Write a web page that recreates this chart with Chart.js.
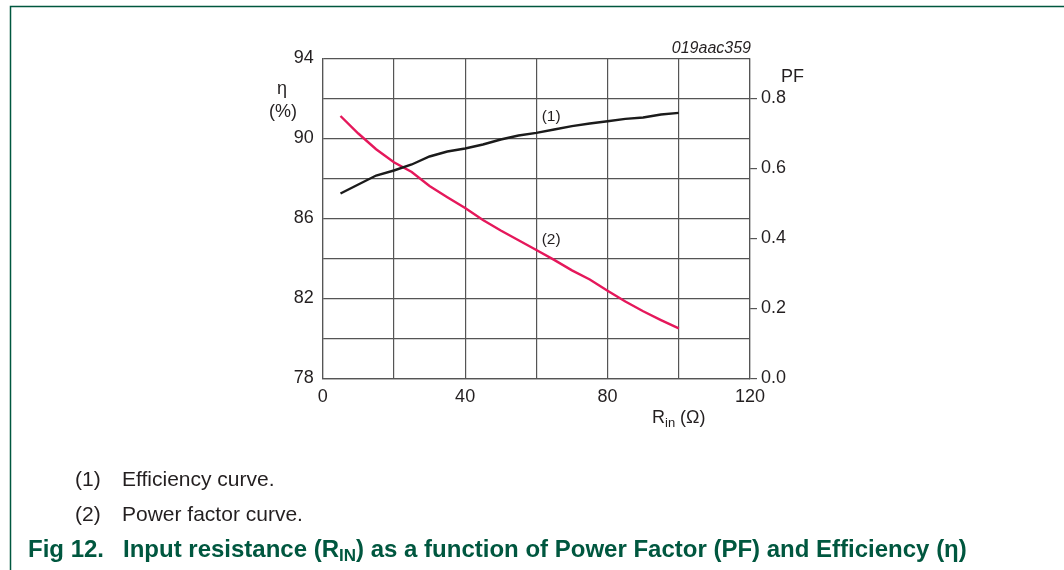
<!DOCTYPE html>
<html>
<head>
<meta charset="utf-8">
<script src="https://cdn.jsdelivr.net/npm/chart.js@4.4.1/dist/chart.umd.min.js"></script>
<style>
html,body{margin:0;padding:0;background:#fff;}
#wrap{position:relative;width:1064px;height:570px;}
</style>
</head>
<body>
<div id="wrap"><canvas id="chart" width="1064" height="570"></canvas></div>
<script>
// data

const rin = [5,10,15,20,25,30,35,40,45,50,55,60,65,70,75,80,85,90,95,100]

const efficiency = [87.25,87.7,88.15,88.4,88.7,89.1,89.35,89.5,89.7,89.95,
90.15,90.28,90.45,90.62,90.75,90.86,90.98,91.05,91.2,91.28]

const powerFactor = [0.750,0.700,0.655,0.618,0.590,0.550,0.518,0.487,0.453,0.423,
0.395,0.367,0.339,0.309,0.283,0.251,0.220,0.192,0.167,0.143]

const etaTicks = [78,82,86,90,94]
const pfTicks = [0,0.2,0.4,0.6,0.8]
const rinTicks = [0,40,80,120]

const labelFont = "'Liberation Sans', Arial, sans-serif"
const textColor = "#231f20"
const gridColor = "#555555"
const green = "#00573f"


// extra text and frame

const textPlugin = {

id:"figText",

afterDraw(chart){

const ctx = chart.ctx
const x = chart.scales.x
const y = chart.scales.y

ctx.save()

// frame of the page
ctx.strokeStyle = green
ctx.lineWidth = 1.5
ctx.beginPath()
ctx.moveTo(10.5,570)
ctx.lineTo(10.5,6.5)
ctx.lineTo(1064,6.5)
ctx.stroke()

ctx.fillStyle = textColor
ctx.textBaseline = "middle"

// axis titles
ctx.font = "18px " + labelFont
ctx.textAlign = "center"
ctx.fillText("η",282,89)
ctx.textAlign = "right"
ctx.fillText("(%)",297,112)

ctx.textAlign = "left"
ctx.fillText("PF",781,77)

ctx.fillText("R",652,418)
let w = ctx.measureText("R").width
ctx.font = "13px " + labelFont
ctx.fillText("in",652+w,423)
let w2 = ctx.measureText("in").width
ctx.font = "18px " + labelFont
ctx.fillText(" (Ω)",652+w+w2,418)

ctx.font = "italic 16px " + labelFont
ctx.textAlign = "right"
ctx.fillText("019aac359",751,49)

// curve labels
ctx.font = "15.5px " + labelFont
ctx.textAlign = "left"
ctx.fillText("(1)",x.getPixelForValue(61.5),y.getPixelForValue(91.09))
ctx.fillText("(2)",x.getPixelForValue(61.5),y.getPixelForValue(84.93))

// notes
ctx.font = "21px " + labelFont
ctx.fillText("(1)",75,480)
ctx.fillText("Efficiency curve.",122,480)
ctx.fillText("(2)",75,515)
ctx.fillText("Power factor curve.",122,515)

// caption
ctx.fillStyle = green
ctx.font = "bold 24px " + labelFont
ctx.fillText("Fig 12.",28,550)

let cx = 123
const parts = [
["Input resistance (R",0],
["IN",1],
[") as a function of Power Factor (PF) and Efficiency (η)",0]
]
parts.forEach(p=>{
ctx.font = (p[1] ? "bold 17px " : "bold 24px ") + labelFont
ctx.fillText(p[0],cx,p[1] ? 556 : 550)
cx += ctx.measureText(p[0]).width
})

ctx.restore()

}

}


const ctx = document.getElementById("chart")

new Chart(ctx,{

type:"line",

data:{

labels:rin,

datasets:[
{
label:"Efficiency",
data:rin.map((r,i)=>({x:r,y:efficiency[i]})),
borderColor:"#1b1b1b",
borderWidth:2.4,
pointRadius:0,
yAxisID:"y"
},
{
label:"Power factor",
data:rin.map((r,i)=>({x:r,y:powerFactor[i]})),
borderColor:"#e5185b",
borderWidth:2.4,
pointRadius:0,
yAxisID:"y2"
}
]

},

options:{

responsive:false,
animation:false,
events:[],

layout:{
padding:{left:0,right:0,top:58.5,bottom:0}
},

plugins:{
legend:{display:false},
tooltip:{enabled:false}
},

scales:{

x:{
type:"linear",
min:0,
max:120,
ticks:{
stepSize:20,
color:textColor,
font:{family:labelFont,size:18},
padding:8,
maxRotation:0,
callback:v=>rinTicks.includes(v) ? v : ""
},
grid:{color:gridColor,lineWidth:1.2,drawTicks:false},
border:{color:gridColor,width:1.2},
afterFit:s=>{s.height = 570-378.5}
},

y:{
position:"left",
min:78,
max:94,
ticks:{
stepSize:2,
color:textColor,
font:{family:labelFont,size:18},
padding:9,
callback:v=>etaTicks.includes(v) ? v : ""
},
grid:{color:gridColor,lineWidth:1.2,drawTicks:false},
border:{color:gridColor,width:1.2},
afterFit:s=>{s.width = 322.7}
},

y2:{
position:"right",
min:0,
max:16/17.5,
afterBuildTicks:s=>{s.ticks = pfTicks.map(v=>({value:v}))},
ticks:{
color:textColor,
font:{family:labelFont,size:18},
padding:4,
callback:v=>v.toFixed(1)
},
grid:{drawOnChartArea:false,color:gridColor,tickLength:7,lineWidth:1.2},
border:{color:gridColor,width:1.2},
afterFit:s=>{s.width = 1064-750}
}

}

},

plugins:[textPlugin]

})
</script>
</body>
</html>
